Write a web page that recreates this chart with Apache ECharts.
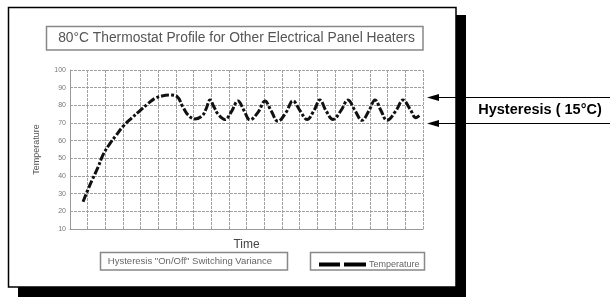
<!DOCTYPE html>
<html><head><meta charset="utf-8">
<script src="https://cdn.jsdelivr.net/npm/echarts@6/dist/echarts.min.js"></script>
<style>html,body{margin:0;padding:0;background:#fff}#c{width:610px;height:297px}</style>
</head><body><div id="c"></div>
<script>
const titleText = '80°C Thermostat Profile for Other Electrical Panel Heaters';
const seriesName = 'Temperature';
const yAxisName = 'Temperature';
const xAxisName = 'Time';
const noteText = 'Hysteresis "On/Off" Switching Variance';
const calloutText = 'Hysteresis ( 15°C)';
const hysteresisBand = [85, 70];
const yRange = [10, 100];
const xRange = [0, 20];

const timeValues = [0.74,1.13,1.59,1.87,2.27,2.61,3.00,3.46,3.97,4.42,4.82,5.21,5.67,6.06,6.40,6.69,7.08,7.48,7.71,7.93,8.16,8.39,8.78,9.12,9.52,9.86,10.20,10.65,11.05,11.39,11.78,12.24,12.63,13.03,13.43,13.82,14.16,14.50,14.90,15.35,15.75,16.15,16.54,16.94,17.28,17.62,17.96,18.47,18.87,19.26,19.60,19.83];
const tempValues = [25.4,35,45,52,58.5,63,68,72.5,77,81,84,85.3,85.8,85,79,74.5,72.3,74,78,83,79,75,72,76,82.5,77,71.8,76,82.5,77,71,76,82.5,77,72,77,83,77,72,77,83,77,71.5,77,83,77,71.5,77,83,78,73,74.5];

const chart = echarts.init(document.getElementById('c'), null, {renderer: 'canvas'});
const FONT = 'Liberation Sans';

function baseGraphics() {
  return [
    {type:'rect', shape:{x:456,y:15,width:10,height:282}, style:{fill:'#000'}, silent:true},
    {type:'rect', shape:{x:18,y:287,width:448,height:10}, style:{fill:'#000'}, silent:true},
    {type:'rect', shape:{x:8.5,y:7.5,width:447.5,height:279.5}, style:{fill:'none',stroke:'#000',lineWidth:1.5}, silent:true},
    {type:'rect', shape:{x:46.5,y:26.5,width:376.5,height:23.5}, style:{fill:'#fff',stroke:'#888',lineWidth:1.5}, silent:true},
    {type:'text', x:236.5, y:38.5, style:{text:titleText, fill:'#555', font:'13.8px "Liberation Sans"', align:'center', verticalAlign:'middle'}, silent:true},
    {type:'rect', shape:{x:100.5,y:252.5,width:187,height:17.5}, style:{fill:'#fff',stroke:'#888',lineWidth:1.5}, silent:true},
    {type:'text', x:190, y:261.5, style:{text:noteText, fill:'#666', font:'9.5px "Liberation Sans"', align:'center', verticalAlign:'middle'}, silent:true},
    {type:'rect', shape:{x:310.5,y:252.5,width:114,height:17.5}, style:{fill:'#fff',stroke:'#888',lineWidth:1.5}, silent:true}
  ];
}

const option = {
  backgroundColor: '#fff',
  animation: false,
  grid: {left:70, right:187, top:70, bottom:68, containLabel:false},
  xAxis: {
    type:'value', min:xRange[0], max:xRange[1], interval:1,
    name:xAxisName, nameLocation:'middle', nameGap:10,
    nameTextStyle:{fontFamily:FONT, fontSize:12, color:'#444'},
    axisLine:{show:true, lineStyle:{color:'#999', width:1}},
    axisTick:{show:false}, axisLabel:{show:false},
    splitLine:{show:true, lineStyle:{color:'#a0a0a0', width:1, type:[3,1]}}
  },
  yAxis: {
    type:'value', min:yRange[0], max:yRange[1], interval:10,
    name:yAxisName, nameLocation:'middle', nameGap:29,
    nameTextStyle:{fontFamily:FONT, fontSize:9, color:'#555'},
    axisLine:{show:true, lineStyle:{color:'#999', width:1}},
    axisTick:{show:false},
    axisLabel:{fontFamily:FONT, fontSize:7, color:'#777', margin:4},
    splitLine:{show:true, lineStyle:{color:'#a0a0a0', width:1, type:[3,1]}}
  },
  legend: {
    left:314, top:255, itemWidth:47, itemHeight:4, itemGap:0,
    data:[{name:seriesName, icon:'path://M0,0H21V4H0Z M25,0H47V4H25Z'}],
    textStyle:{fontFamily:FONT, fontSize:9, color:'#666', padding:[0,0,0,-2]},
    itemStyle:{color:'#000'}
  },
  series: [{
    name:seriesName, type:'line', smooth:0.4, showSymbol:false, symbol:'none',
    data: timeValues.map((t,i)=>[t, tempValues[i]]),
    lineStyle:{color:'#111', width:3, type:[8,2,3,2]},
    itemStyle:{color:'#000'}, z:5
  }],
  graphic: baseGraphics()
};
chart.setOption(option);

const extra = [];
const tipX = 427;
hysteresisBand.forEach(v => {
  const y = Math.round(chart.convertToPixel({yAxisIndex:0}, v)) + 0.5;
  extra.push({type:'line', shape:{x1:tipX+6, y1:y, x2:610, y2:y}, style:{stroke:'#000', lineWidth:1.2}, silent:true, z:20});
  extra.push({type:'polygon', shape:{points:[[tipX,y],[tipX+12,y-3.5],[tipX+12,y+3.5]]}, style:{fill:'#000'}, silent:true, z:20});
});
const yMid = (chart.convertToPixel({yAxisIndex:0}, hysteresisBand[0]) + chart.convertToPixel({yAxisIndex:0}, hysteresisBand[1])) / 2;
extra.push({type:'text', x:540, y:yMid, style:{text:calloutText, fill:'#000', font:'bold 14.5px "Liberation Sans Narrow", "Liberation Sans"', align:'center', verticalAlign:'middle'}, silent:true, z:22});
chart.setOption({graphic: baseGraphics().concat(extra)});
</script>
</body></html>
